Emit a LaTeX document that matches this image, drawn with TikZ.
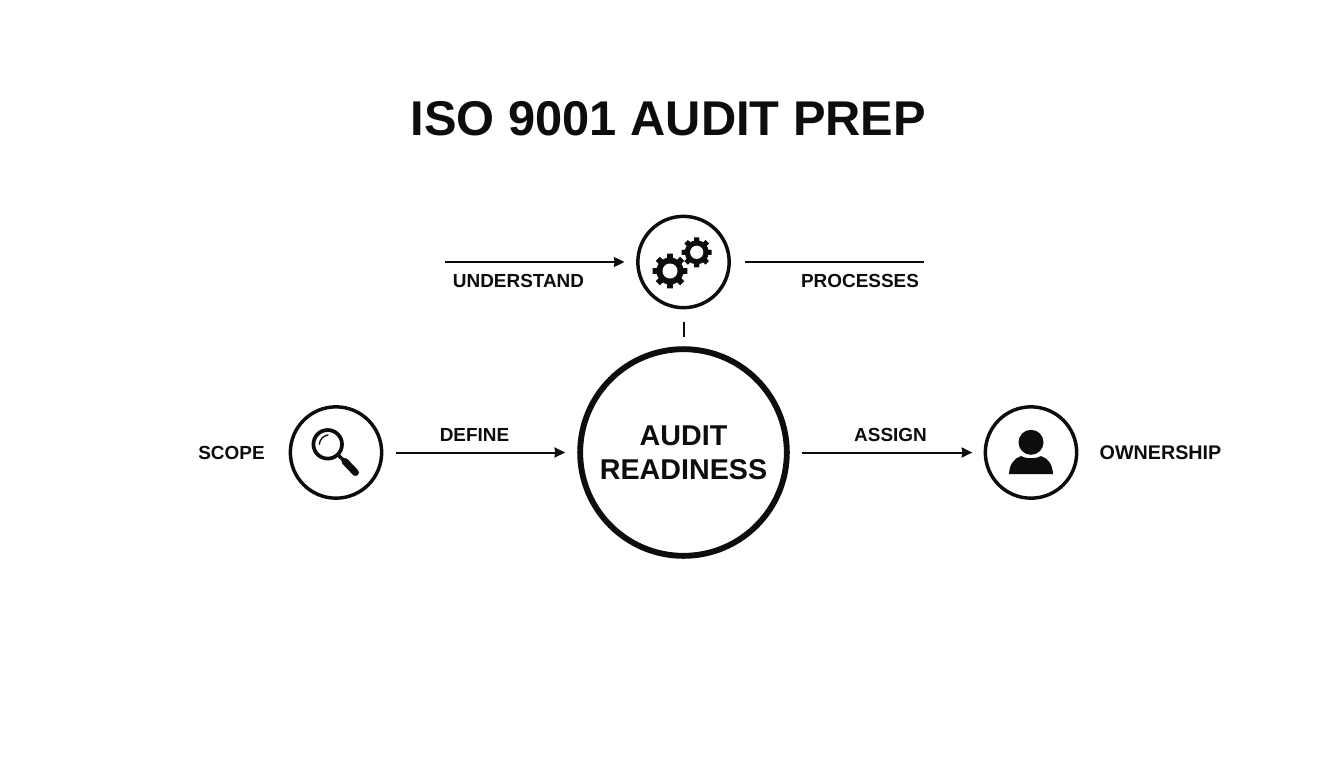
\documentclass[tikz,border=0pt]{standalone}
\usepackage{fontspec}
\setmainfont{Liberation Sans}[BoldFont={Liberation Sans Bold}]
\usetikzlibrary{arrows.meta}
\definecolor{ink}{HTML}{0D0D0D}
\tikzset{
  ring/.style={circle,draw=ink,line width=2.6pt,minimum size=68.5pt,inner sep=0pt,outer sep=0pt},
  hub/.style={circle,draw=ink,line width=4.4pt,minimum size=155pt,inner sep=0pt,outer sep=0pt,align=center,font=\bfseries\fontsize{21.5}{25.5}\selectfont,text=ink},
  lab/.style={font=\bfseries\fontsize{14.2}{16}\selectfont,text=ink,inner sep=0pt},
  ttl/.style={font=\bfseries\fontsize{36.6}{44}\selectfont,text=ink,inner sep=0pt},
  link/.style={draw=ink,line width=1.5pt},
  arrowed/.style={link,-{Stealth[length=8pt,width=7.5pt,inset=0.6pt]}}
}
\begin{document}
\begin{tikzpicture}[x=0.75pt,y=-0.75pt]
\useasboundingbox (0,0) rectangle (1344,768);
\fill[white] (0,0) rectangle (1344,768);
\node[ttl] (title) at (668.5,119) {ISO 9001 AUDIT PREP};
\node[hub] (hubnode) at (683.5,452.5) {AUDIT\\READINESS};
\node[ring] (gears) at (683.5,262) {};
\node[ring] (scope) at (336,452.5) {};
\node[ring] (owner) at (1031,452.5) {};
\coordinate (inL) at (445,262);
\coordinate (outR) at (924,262);
\draw[arrowed,shorten >=10pt] (inL) -- (gears);
\draw[link,shorten <=11.6pt] (gears) -- (outR);
\draw[link,shorten <=10.5pt,shorten >=9pt] (gears) -- (hubnode);
\draw[arrowed,shorten <=10.5pt,shorten >=11.25pt] (scope) -- (hubnode);
\draw[arrowed,shorten <=11.25pt,shorten >=9.75pt] (hubnode) -- (owner);
\node[lab] (l1) at (518.5,281) {UNDERSTAND};
\node[lab] (l2) at (860,281) {PROCESSES};
\node[lab] (l3) at (474.5,435) {DEFINE};
\node[lab] (l4) at (890.5,435) {ASSIGN};
\node[lab] (l5) at (231.5,453) {SCOPE};
\node[lab,font=\bfseries\fontsize{14.8}{16}\selectfont] (l6) at (1160.5,453) {OWNERSHIP};
% gears
\foreach \cx/\cy/\ro/\ri/\h/\tw in {670/271/17.3/13.5/7.5/3.4,696.7/252.3/15/12/6.6/3}{
  \fill[ink] (\cx,\cy) circle[radius=\ri];
  \foreach \a in {0,45,...,315}{
    \fill[ink,rotate around={\a:(\cx,\cy)}] (\cx-\tw,\cy) -- (\cx-\tw+0.5,\cy-\ro) -- (\cx+\tw-0.5,\cy-\ro) -- (\cx+\tw,\cy) -- cycle;
  }
  \fill[white] (\cx,\cy) circle[radius=\h];
}
% magnifier
\draw[ink,line width=2.8pt] (327.7,444.3) circle[radius=14.3];
\draw[ink,line width=2.6pt] (338,455) -- (345,461.5);
\draw[ink,line width=5.2pt,line cap=round] (345,461.5) -- (355.5,472.5);
\draw[ink,line width=1pt,line cap=round] (319.3,444.3) .. controls (319.8,439.5) and (323,435.8) .. (328,435);
% person
\fill[ink] (1031,442.3) circle[radius=12.5];
\fill[ink] (1009,474) .. controls (1009.5,464) and (1014,458.5) .. (1021,456) .. controls (1026,459) and (1036,459) .. (1041,456) .. controls (1048,458.5) and (1052.5,464) .. (1053,474) -- cycle;
\end{tikzpicture}
\end{document}
